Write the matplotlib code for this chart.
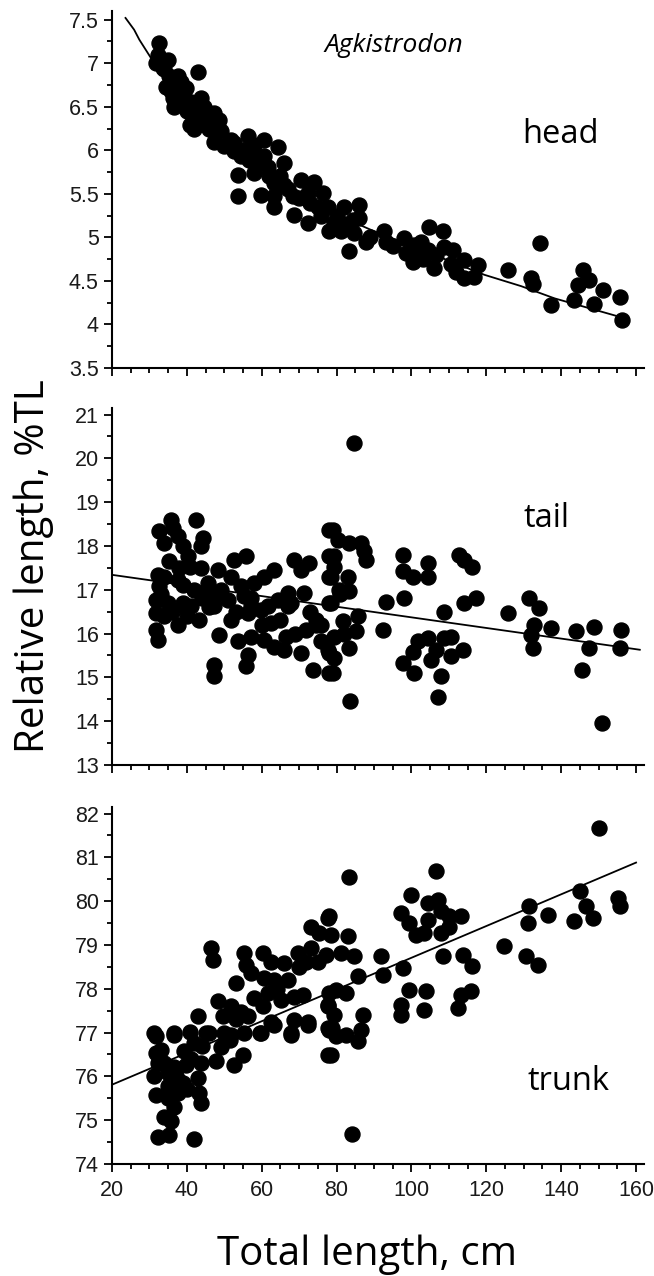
import matplotlib
matplotlib.use("Agg")
import matplotlib.pyplot as plt
from matplotlib.ticker import MultipleLocator, FuncFormatter

# ---- data ----
head_x = [32.5, 32.2, 33.1, 34.9, 31.8, 34.0, 35.3, 37.5, 38.4, 42.9, 34.4, 35.8, 39.8, 36.6,
          36.2, 39.8, 40.7, 41.6, 43.8, 44.7, 45.5, 47.3, 48.7, 42.0, 47.3, 49.1, 51.8, 52.7,
          56.3, 58.0, 60.7, 64.3, 66.0, 53.6, 53.6, 56.7, 58.0, 61.6, 60.7, 59.8, 63.4, 63.4,
          66.0, 68.3, 70.5, 74.0, 76.3, 72.3, 52.7, 54.5, 58.9, 63.4, 68.7, 72.3, 75.8, 78.1,
          77.6, 82.1, 86.1, 86.1, 83.4, 87.9, 81.2, 84.7, 79.4, 84.3, 92.7, 93.2, 98.1, 98.5,
          100.3, 100.8, 102.6, 104.8, 104.3, 106.1, 106.6, 108.4, 108.8, 111.0, 110.6, 114.1,
          114.1, 116.8, 117.7, 125.7, 131.9, 132.4, 134.4, 137.3, 143.5, 144.4, 145.7, 147.5,
          148.8, 151.1, 155.8, 156.3,
          33.5, 36.0, 37.0, 38.0, 39.0, 40.0, 41.0, 43.0, 44.0, 46.0, 50.0, 55.0, 57.0, 62.0,
          65.0, 67.0, 70.0, 73.0, 75.0, 80.0, 82.0, 89.0, 95.0, 101.0, 103.0, 112.0]
head_y = [7.23, 7.10, 7.04, 7.04, 7.00, 6.93, 6.85, 6.85, 6.79, 6.90, 6.73, 6.68, 6.71, 6.50,
          6.60, 6.58, 6.29, 6.43, 6.60, 6.50, 6.39, 6.43, 6.35, 6.24, 6.10, 6.22, 6.12, 5.99,
          6.16, 6.06, 6.12, 6.04, 5.85, 5.72, 5.47, 5.89, 5.74, 5.81, 5.93, 5.49, 5.47, 5.62,
          5.60, 5.47, 5.66, 5.64, 5.51, 5.51, 6.08, 5.93, 5.85, 5.35, 5.26, 5.16, 5.24, 5.07,
          5.35, 5.35, 5.37, 5.22, 4.84, 4.95, 5.07, 5.05, 5.16, 5.20, 5.07, 4.95, 4.99, 4.82,
          4.72, 4.91, 4.95, 5.12, 4.86, 4.65, 4.80, 5.07, 4.89, 4.86, 4.70, 4.74,
          4.53, 4.55, 4.68, 4.63, 4.53, 4.47, 4.93, 4.22, 4.28, 4.45, 4.62, 4.51,
          4.24, 4.40, 4.32, 4.05,
          6.95, 6.75, 6.70, 6.65, 6.55, 6.45, 6.55, 6.40, 6.30, 6.25, 6.05, 6.00, 5.95, 5.70,
          5.70, 5.55, 5.45, 5.40, 5.35, 5.25, 5.15, 5.00, 4.90, 4.80, 4.75, 4.60]
head_fit_x = [23.6, 25.9, 27.3, 30.4, 40, 50, 60, 70, 80, 89.2, 119.5, 129.3, 138.2, 154.6]
head_fit_y = [7.52, 7.385, 7.27, 7.06, 6.49, 6.07, 5.74, 5.47, 5.26, 5.086, 4.57, 4.44, 4.30, 4.10]

tail_x = [32.6, 35.8, 36.2, 42.4, 44.2, 43.8, 34.0, 37.5, 38.9, 40.2, 35.3, 40.7, 43.8, 32.2,
          32.6, 37.5, 31.8, 34.9, 38.9, 41.1, 43.8, 45.6, 48.2, 52.7, 55.8, 51.8, 54.5, 58.0,
          60.7, 63.4, 66.9, 68.7, 70.5, 72.7, 71.4, 67.8, 47.3, 50.9, 55.3, 57.1, 61.6, 64.3,
          74.5, 78.1, 78.1, 78.1, 78.1,
          31.8, 31.8, 32.2, 34.0, 37.5, 39.3, 43.3, 47.3, 48.7, 47.3, 47.3, 51.8, 53.6, 56.3,
          55.8, 57.1, 60.7, 63.4, 66.0, 66.5, 62.5, 56.3, 59.8, 66.9, 70.5, 71.8, 74.5, 73.6,
          75.8, 78.1, 78.1,
          84.7, 79.0, 80.3, 83.4, 86.5, 87.4, 87.9, 79.4, 79.4, 78.5, 83.0, 80.7, 83.4, 78.5,
          93.2, 98.1, 97.7, 97.7, 100.3, 104.3, 104.3, 112.8, 116.3, 114.1, 108.8, 114.1,
          117.3, 125.7, 131.5, 134.2,
          75.8, 81.6, 85.6, 85.2, 79.4, 77.6, 79.0, 83.4, 79.4, 83.7, 92.3, 97.7, 100.8,
          100.3, 101.7, 104.3, 105.2, 106.6, 107.9, 107.0, 108.8, 110.6, 110.6, 113.7, 132.8,
          131.9, 132.4, 137.3, 144.0, 148.8, 147.5, 145.5, 150.9, 156.0, 155.8,
          33.0, 34.0, 36.0, 38.0, 39.0, 40.0, 42.0, 44.0, 46.0, 49.0, 53.0, 57.0, 60.0, 65.0,
          69.0, 73.0, 81.0, 82.0]
tail_y = [18.33, 18.60, 18.41, 18.60, 18.18, 17.99, 18.07, 18.22, 17.99, 17.76, 17.65, 17.53,
          17.50, 17.34, 17.08, 17.23, 16.77, 16.70, 16.70, 16.62, 16.92, 17.15, 17.46, 17.69,
          17.76, 17.30, 17.08, 17.15, 17.30, 17.46, 16.92, 17.69, 17.46, 17.61, 16.92, 16.70,
          16.85, 16.77, 16.85, 16.62, 16.62, 16.77, 16.31, 18.37, 17.76, 17.30, 16.70,
          16.47, 16.09, 15.86, 16.39, 16.20, 16.62, 16.31, 16.62, 15.97, 15.29, 15.02, 16.31,
          15.82, 15.51, 15.25, 15.93, 15.86, 15.70, 15.63, 15.93, 16.24, 16.47, 16.54, 16.62,
          15.55, 16.09, 16.20, 15.17, 15.82, 15.10, 15.55,
          20.34, 18.37, 18.14, 18.07, 18.07, 17.88, 17.69, 17.76, 17.53, 17.30, 17.30, 17.00,
          16.96, 16.70, 16.73, 16.81, 17.80, 17.42, 17.30, 17.61, 17.30, 17.80, 17.53, 17.69,
          16.50, 16.70, 16.81, 16.47, 16.81, 16.58,
          16.20, 16.28, 16.39, 16.05, 15.93, 15.63, 15.10, 15.67, 15.44, 14.47, 16.09, 15.32,
          15.10, 15.59, 15.82, 15.89, 15.40, 15.63, 15.02, 14.55, 15.89, 15.93, 15.48, 15.63,
          16.20, 15.97, 15.67, 16.12, 16.05, 16.16, 15.67, 15.17, 13.95, 16.09, 15.67,
          16.90, 17.30, 16.50, 17.50, 17.10, 16.40, 17.00, 16.80, 16.60, 17.00, 16.50, 16.80,
          16.20, 16.30, 16.00, 16.50, 16.90, 16.00]
tail_fit_x = [20, 161]
tail_fit_y = [17.34, 15.63]

trunk_x = [46.5, 46.9, 55.3, 55.8, 57.1, 53.1, 60.3, 62.5, 66.0, 69.6, 73.2, 71.8, 73.2, 75.4,
           77.6, 77.2, 48.2, 51.8, 54.5, 60.7, 63.4, 61.6, 65.1, 68.7, 70.9, 60.3, 62.5, 56.3,
           49.6, 42.9, 68.7, 72.3, 78.1, 77.6, 77.6, 31.3, 36.6, 40.7, 46.0, 51.8, 55.3, 59.4,
           67.8,
           31.8, 31.8, 32.2, 31.3, 31.8, 34.9, 34.9, 36.6, 36.6, 39.3, 38.9, 39.8, 42.9, 43.3,
           43.8, 43.8, 37.5, 36.6, 34.0, 35.8, 32.2, 35.3, 41.8, 42.0, 47.8, 49.1, 52.7, 54.9,
           51.4, 59.8, 63.4, 67.8, 72.3, 77.6, 78.1,
           150.2, 83.2, 106.6, 99.9, 97.2, 99.4, 101.2, 104.3, 107.0, 107.9, 104.3, 103.4,
           107.9, 110.1, 113.2, 110.1, 78.1, 78.5, 83.0, 81.2, 84.7, 91.9, 85.6, 92.3, 97.7,
           108.4, 113.7, 116.3, 124.8, 130.6, 133.7, 131.5, 131.1, 136.4, 144.9, 146.6, 148.4,
           143.5, 155.1, 155.6, 79.8, 82.5, 77.6, 79.4, 87.0, 78.9, 82.5, 86.5, 97.2, 97.2,
           99.4, 103.4, 103.9, 112.3, 113.2, 115.9,
           78.5, 84.0, 79.8, 85.6,
           33.0, 34.0, 35.0, 37.0, 38.0, 40.0, 41.0, 44.0, 45.0, 50.0, 53.0, 58.0, 64.0, 67.0,
           70.0, 75.0]
trunk_y = [78.93, 78.66, 78.82, 78.55, 78.36, 78.13, 78.82, 78.62, 78.59, 78.82, 78.93, 78.62,
           79.42, 79.27, 79.62, 78.78, 77.71, 77.60, 77.48, 78.24, 78.21, 77.90, 77.75, 77.82,
           77.86, 77.60, 77.25, 77.37, 77.37, 77.37, 77.29, 77.25, 77.90, 77.60, 77.10, 76.99,
           76.99, 77.02, 76.99, 76.95, 76.99, 76.99, 76.99,
           76.91, 76.53, 76.30, 76.00, 75.58, 76.07, 75.77, 76.22, 76.95, 76.57, 75.84, 76.26,
           75.96, 75.62, 75.39, 76.30, 75.62, 75.31, 75.08, 74.97, 74.62, 74.66, 74.56, 76.76,
           76.34, 76.68, 76.26, 76.49, 76.83, 76.99, 77.18, 76.95, 77.18, 76.49, 77.06,
           81.67, 80.55, 80.68, 80.15, 79.73, 79.50, 79.23, 79.96, 80.03, 79.77, 79.58, 79.27,
           79.27, 79.65, 79.65, 79.42, 79.65, 79.23, 79.20, 78.82, 78.74, 78.74, 78.28, 78.32,
           78.47, 78.74, 78.78, 78.51, 78.97, 78.74, 78.55, 79.88, 79.50, 79.69, 80.22, 79.88,
           79.62, 79.54, 80.07, 79.88, 77.98, 77.90, 77.63, 77.41, 77.41, 77.10, 76.95, 77.06,
           77.63, 77.41, 77.98, 77.52, 77.94, 77.56, 77.86, 77.94,
           76.49, 74.68, 76.91, 76.80,
           76.60, 76.30, 75.50, 76.00, 75.90, 75.70, 76.40, 76.70, 77.00, 77.00, 77.30, 77.80,
           78.00, 78.20, 78.50, 78.60]
trunk_fit_x = [20, 160]
trunk_fit_y = [75.81, 80.88]

panels = [
    (head_x, head_y, head_fit_x, head_fit_y, (3.5, 7.6), 0.5, 0.25, "head"),
    (tail_x, tail_y, tail_fit_x, tail_fit_y, (13, 21.15), 1, 0.5, "tail"),
    (trunk_x, trunk_y, trunk_fit_x, trunk_fit_y, (74, 82.15), 1, 0.5, "trunk"),
]
bottoms = [0.7116, 0.4005, 0.0878]
label_pos = [(522, 143), (523, 527), (528, 1090)]

W, H = 654, 1276
fig = plt.figure(figsize=(W / 100, H / 100), dpi=100)
tick_font = "Liberation Sans"
text_font = "Open Sans"

for (px, py, fx, fy, ylim, ymaj, ymin, name), b, (lx, ly) in zip(panels, bottoms, label_pos):
    ax = fig.add_axes([0.1713, b, 0.8127, 0.2798])
    ax.plot(fx, fy, color="black", lw=1.3, zorder=2)
    ax.plot(px, py, "o", ms=10.8, color="black", mec="black", zorder=3)
    ax.set_xlim(20, 162)
    ax.set_ylim(*ylim)
    for s in ("top", "right"):
        ax.spines[s].set_visible(False)
    for s in ("left", "bottom"):
        ax.spines[s].set_linewidth(1.5)
    ax.xaxis.set_major_locator(MultipleLocator(20))
    ax.xaxis.set_minor_locator(MultipleLocator(5))
    ax.yaxis.set_major_locator(MultipleLocator(ymaj))
    ax.yaxis.set_minor_locator(MultipleLocator(ymin))
    ax.tick_params(which="major", direction="out", length=5.5, width=1.3, pad=4,
                   labelsize=15.5, labelcolor="#1a1a1a")
    ax.tick_params(which="minor", direction="out", length=3.5, width=1.3)
    ax.yaxis.set_major_formatter(FuncFormatter(lambda v, p: "%g" % v))
    for t in ax.get_xticklabels() + ax.get_yticklabels():
        t.set_fontfamily(tick_font)
    if name != "trunk":
        ax.tick_params(axis="x", labelbottom=False)
    else:
        ax.tick_params(axis="x", pad=6)
    fig.text(lx / W, 1 - ly / H, name, family=text_font, fontsize=23.5,
             ha="left", va="baseline")

fig.text(324 / W, 1 - 52 / H, "Agkistrodon", family=text_font, style="italic",
         fontsize=19, ha="left", va="baseline")
fig.text(0.051, 0.556, "Relative length, %TL", family=text_font, fontsize=29,
         rotation=90, ha="center", va="center")
fig.text(0.561, 1 - 1265 / H, "Total length, cm", family=text_font, fontsize=29,
         ha="center", va="baseline")

fig.savefig("out.png", dpi=100)
